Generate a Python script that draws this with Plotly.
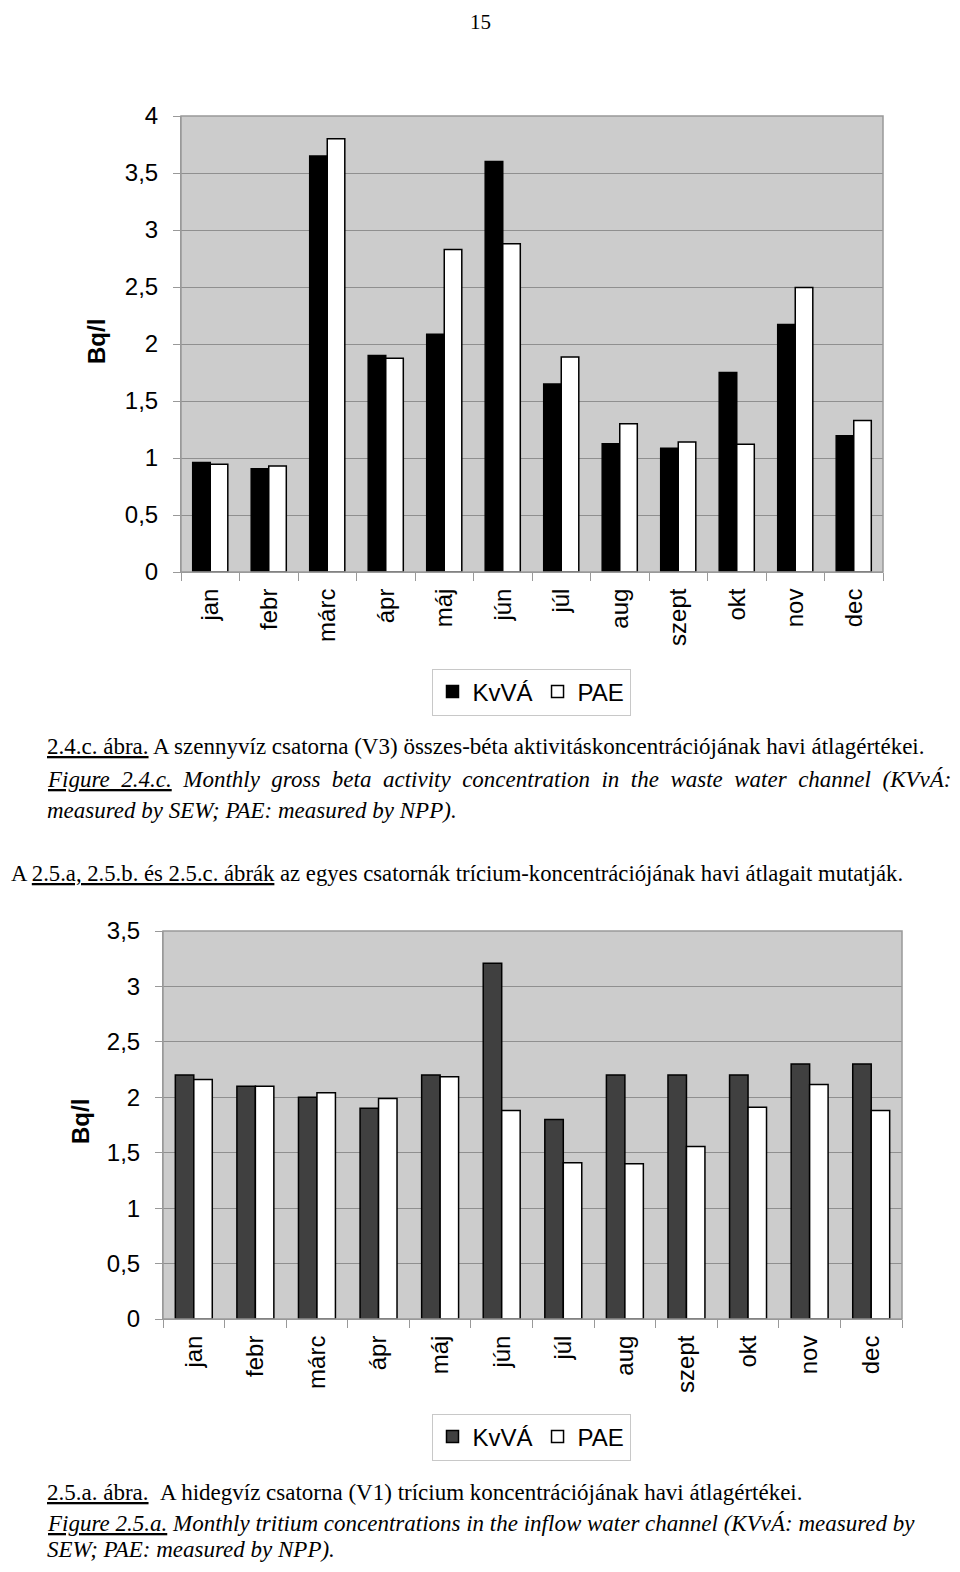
import plotly.graph_objects as go

# page is 960x1572; the html body keeps an 8px margin, so the figure is 16px smaller
OFF = 8
W, H = 960 - 2 * OFF, 1572 - 2 * OFF

months = ["jan", "febr", "márc", "ápr", "máj", "jún", "júl", "aug", "szept", "okt", "nov", "dec"]

# Chart 1: 2.4.c – gross beta (Bq/l)
beta_kvva = [0.96, 0.905, 3.65, 1.90, 2.085, 3.60, 1.65, 1.125, 1.085, 1.75, 2.17, 1.195]
beta_pae = [0.945, 0.93, 3.80, 1.875, 2.83, 2.88, 1.886, 1.30, 1.14, 1.12, 2.495, 1.33]

# Chart 2: 2.5.a – tritium (Bq/l)
trit_kvva = [2.20, 2.10, 2.00, 1.90, 2.20, 3.21, 1.80, 2.20, 2.20, 2.20, 2.30, 2.30]
trit_pae = [2.16, 2.10, 2.04, 1.99, 2.185, 1.88, 1.41, 1.40, 1.555, 1.91, 2.115, 1.88]

y1_ticks = [0, 0.5, 1, 1.5, 2, 2.5, 3, 3.5, 4]
y2_ticks = [0, 0.5, 1, 1.5, 2, 2.5, 3, 3.5]


def lbl(v):
    return ("%g" % v).replace(".", ",")


def px_x(x):
    return (x - OFF) / W


def px_y(y):
    return 1 - (y - OFF) / H


fig = go.Figure()

fig.add_trace(go.Bar(x=months, y=beta_kvva, name="KvVÁ", xaxis="x", yaxis="y",
                     marker=dict(color="#000000", line=dict(color="#000000", width=1.5)),
                     legend="legend"))
fig.add_trace(go.Bar(x=months, y=beta_pae, name="PAE", xaxis="x", yaxis="y",
                     marker=dict(color="#ffffff", line=dict(color="#000000", width=1.5)),
                     legend="legend"))
fig.add_trace(go.Bar(x=months, y=trit_kvva, name="KvVÁ", xaxis="x2", yaxis="y2",
                     marker=dict(color="#404040", line=dict(color="#000000", width=1.5)),
                     legend="legend2"))
fig.add_trace(go.Bar(x=months, y=trit_pae, name="PAE", xaxis="x2", yaxis="y2",
                     marker=dict(color="#ffffff", line=dict(color="#000000", width=1.5)),
                     legend="legend2"))

sans = "Liberation Sans, Arial, sans-serif"
tickfont = dict(family=sans, size=24, color="#000")

xcommon = dict(type="category", tickangle=-90, tickson="boundaries", ticks="outside",
               ticklen=8, tickcolor="#999999", showline=True, linecolor="#999999", linewidth=1,
               tickfont=tickfont, showgrid=False, ticklabelstandoff=6, automargin=False)
ycommon = dict(ticks="outside", ticklen=7, tickcolor="#999999", showline=True,
               linecolor="#999999", linewidth=1, showgrid=True, gridcolor="#8f8f8f",
               gridwidth=1, tickfont=tickfont, zeroline=False, ticklabelstandoff=10,
               automargin=False)

legfont = dict(family=sans, size=24, color="#000")

fig.update_layout(
    template="none",
    width=W, height=H,
    autosize=False,
    margin=dict(l=0, r=0, t=0, b=0, pad=0, autoexpand=False),
    paper_bgcolor="white",
    plot_bgcolor="#cccccc",
    barmode="group",
    bargap=0.40,
    bargroupgap=0.0,
    showlegend=True,
    xaxis=dict(domain=[px_x(181), px_x(883)], anchor="y", **xcommon),
    yaxis=dict(domain=[px_y(572), px_y(116)], anchor="x", range=[0, 4],
               tickvals=y1_ticks, ticktext=[lbl(v) for v in y1_ticks], **ycommon),
    xaxis2=dict(domain=[px_x(163), px_x(902)], anchor="y2", **xcommon),
    yaxis2=dict(domain=[px_y(1319), px_y(931)], anchor="x2", range=[0, 3.5],
                tickvals=y2_ticks, ticktext=[lbl(v) for v in y2_ticks], **ycommon),
    legend=dict(orientation="h", x=px_x(531), y=px_y(692), xanchor="center", yanchor="middle",
                bordercolor="#c8c8c8", borderwidth=1, bgcolor="white",
                font=legfont, itemwidth=30, tracegroupgap=0),
    legend2=dict(orientation="h", x=px_x(531), y=px_y(1437), xanchor="center", yanchor="middle",
                 bordercolor="#c8c8c8", borderwidth=1, bgcolor="white",
                 font=legfont, itemwidth=30, tracegroupgap=0),
)

# plot-area frame (top/right edges)
for xa, ya in (("x", "y"), ("x2", "y2")):
    fig.add_shape(type="rect", xref=f"{xa} domain", yref=f"{ya} domain", x0=0, x1=1, y0=0, y1=1,
                  line=dict(color="#999999", width=1.5), layer="above")

serif = "Liberation Serif, Times New Roman, serif"
ann = []


def text(x, y, s, size=23, anchor="left", italic=False, yanchor="middle"):
    ann.append(dict(x=px_x(x), y=px_y(y), xref="paper", yref="paper", text=s, showarrow=False,
                    xanchor=anchor, yanchor=yanchor,
                    font=dict(family=serif, size=size, color="#000",
                              style="italic" if italic else "normal")))


sp = "&nbsp;&nbsp;"
text(480, 8, "15", size=21, anchor="center", yanchor="top")
text(45, 746, "<u>2.4.c. ábra.</u> A szennyvíz csatorna (V3) összes-béta aktivitáskoncentrációjának havi átlagértékei.")
text(45, 779, sp.join(["<u>Figure" + sp + "2.4.c.</u>", "Monthly", "gross", "beta", "activity",
                       "concentration", "in", "the", "waste", "water", "channel", "(KVvÁ:"]), italic=True)
text(45, 810, "measured by SEW; PAE: measured by NPP).", italic=True)
text(9, 873, "A <u>2.5.a, 2.5.b. és 2.5.c. ábrák</u> az egyes csatornák trícium-koncentrációjának havi átlagait mutatják.", size=22.7)
text(45, 1492, "<u>2.5.a. ábra.</u>&nbsp;&nbsp;A hidegvíz csatorna (V1) trícium koncentrációjának havi átlagértékei.")
text(45, 1523, "<u>Figure 2.5.a.</u> Monthly tritium concentrations in the inflow water channel (KVvÁ: measured by", italic=True)
text(45, 1564, "SEW; PAE: measured by NPP).", italic=True, yanchor="bottom")

for (x, y) in ((97, 342), (80, 1122)):
    ann.append(dict(x=px_x(x), y=px_y(y), xref="paper", yref="paper", text="<b>Bq/l</b>",
                    showarrow=False, textangle=-90, xanchor="center", yanchor="middle",
                    font=dict(family=sans, size=24, color="#000")))

fig.update_layout(annotations=ann)

fig.write_html("out.html")
